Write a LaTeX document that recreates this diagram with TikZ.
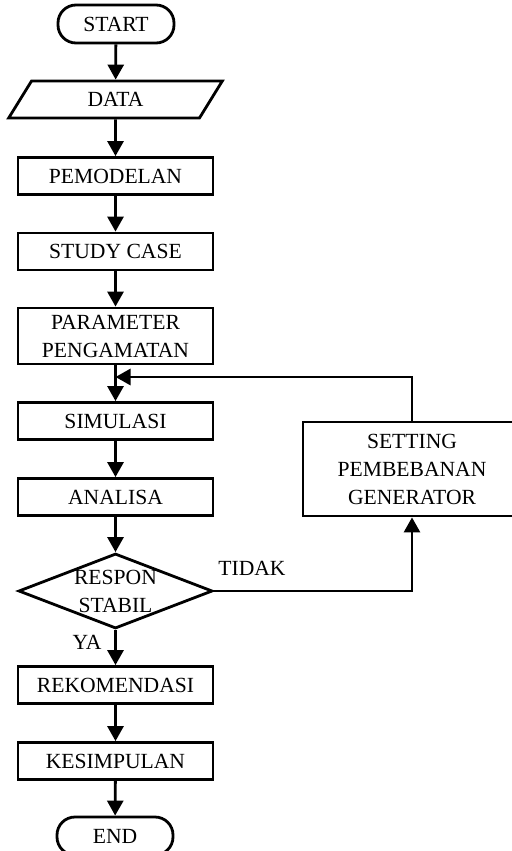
\documentclass[tikz,border=0pt]{standalone}
\usepackage{fontspec}
\setmainfont{Liberation Serif}
\usetikzlibrary{arrows.meta}
\usetikzlibrary{shapes.geometric}
\usetikzlibrary{positioning}

\tikzset{
  box/.style={draw, line width=1.4pt, inner sep=0pt, minimum width=97.5pt,
    minimum height=18.5pt, align=center, font=\fontsize{10.8}{14}\selectfont},
  termbox/.style={box, rounded corners=9pt, minimum width=58pt, minimum height=19pt},
  iobox/.style={box, trapezium, trapezium stretches=true, trapezium left angle=62,
    trapezium right angle=118, minimum width=107pt, rounded corners=0pt},
  decision/.style={box, diamond, aspect=2.59, minimum width=97pt, minimum height=37.5pt},
  flow/.style={line width=1.4pt, -{Triangle[length=7.5pt,width=8pt]}},
  lbl/.style={font=\fontsize{10.8}{12}\selectfont, inner sep=0pt}
}

\begin{document}
\begin{tikzpicture}[x=0.5pt, y=-0.5pt]
    \useasboundingbox (0,0) rectangle (512,851);

    \node[termbox] (start) at (116,24) {START};
    \node[iobox] (data) at (115.5,99.5) {DATA};
    \node[box] (model) at (115.5,176) {PEMODELAN};
    \node[box] (case) at (115.5,251.5) {STUDY CASE};
    \node[box, minimum height=28pt] (param) at (115.5,336) {PARAMETER\\PENGAMATAN};
    \coordinate (join) at (115.5,377);
    \node[box] (sim) at (115.5,421) {SIMULASI};
    \node[box] (anl) at (115.5,497) {ANALISA};
    \node[decision] (resp) at (115.5,591) {RESPON\\STABIL};
    \node[box] (rekom) at (115.5,685) {REKOMENDASI};
    \node[box] (kesim) at (115.5,761) {KESIMPULAN};
    \node[termbox] (end) at (115,836) {END};

    \node[box, minimum width=109pt, minimum height=47pt] (set) at (412,469)
      {SETTING\\PEMBEBANAN\\GENERATOR};

    \draw[flow] (start) -- (data);
    \draw[flow] (data) -- (model);
    \draw[flow] (model) -- (case);
    \draw[flow] (case) -- (param);
    \draw[flow] (param) -- (sim);
    \draw[flow] (sim) -- (anl);
    \draw[flow] (anl) -- (resp);
    \draw[flow] (resp) -- (rekom);
    \draw[flow] (rekom) -- (kesim);
    \draw[flow] (kesim) -- (end);

    % loop back
    \draw[flow] (resp.east) -| (set.south);
    \draw[flow] (set.north) |- (join);

    \node[lbl] (tidak) at (252,568) {TIDAK};
    \node[lbl] (ya) at (87,642) {YA};
  \end{tikzpicture}
\end{document}
